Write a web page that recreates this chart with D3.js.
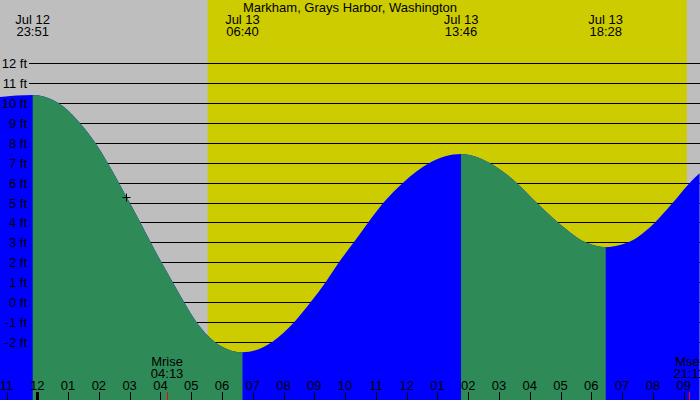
<!DOCTYPE html>
<html>
<head>
<meta charset="utf-8">
<script src="https://cdn.jsdelivr.net/npm/d3@7"></script>
<style>
html,body{margin:0;padding:0;background:#fff;}
svg{display:block;}
text{font-family:"Liberation Sans",Arial,sans-serif;font-size:13px;fill:#000;}
</style>
</head>
<body>
<svg id="chart" width="700" height="400"></svg>
<script>
// ---- data ----
const title = "Markham, Grays Harbor, Washington";

// tide curve samples (month-day hour:minute, feet)
const tideTimes = ["07-12 22:47","07-12 23:51","07-13 00:41","07-13 01:23","07-13 01:53","07-13 02:17","07-13 02:39",
  "07-13 03:00","07-13 03:21","07-13 03:41","07-13 04:02","07-13 04:24","07-13 04:46","07-13 05:10","07-13 05:46",
  "07-13 06:40","07-13 07:38","07-13 08:21","07-13 08:53","07-13 09:22","07-13 09:48","07-13 10:17","07-13 10:45",
  "07-13 11:15","07-13 11:53","07-13 12:45","07-13 13:46","07-13 14:41","07-13 15:34","07-13 16:13","07-13 16:55",
  "07-13 17:49","07-13 18:28","07-13 19:12","07-13 20:04","07-13 20:39","07-13 21:12","07-13 21:31"];
const tideFeet = [10.3,10.4,10,9,8,7,6,5,4,3,2,1,0,-1,-2,-2.52,-2,-1,0,1,2,3,4,5,6,7,7.44,7,6,5,4,3,2.76,3,4,5,6,6.47];

// high / low tide extremes
const extremeTimes = ["07-12 23:51","07-13 06:40","07-13 13:46","07-13 18:28"];
const extremeFeet = [10.4,-2.52,7.44,2.76];
const extremeDateLabels = ["Jul 12","Jul 13","Jul 13","Jul 13"];
const extremeTimeLabels = ["23:51","06:40","13:46","18:28"];

// sun
const sunrise = "07-13 05:32";
const sunset = "07-13 21:06";

// moon events
const moonNames = ["Mrise","Mset"];
const moonTimes = ["07-13 04:13","07-13 21:11"];
const moonLabels = ["04:13","21:11"];

// current marker
const markerTime = "07-13 02:53";
const markerFeet = 5.3;

// axes
const feetTicks = [-2,-1,0,1,2,3,4,5,6,7,8,9,10,11,12];
const hourTicks = ["07-12 23:00","07-13 00:00","07-13 01:00","07-13 02:00","07-13 03:00","07-13 04:00","07-13 05:00",
  "07-13 06:00","07-13 07:00","07-13 08:00","07-13 09:00","07-13 10:00","07-13 11:00","07-13 12:00","07-13 13:00",
  "07-13 14:00","07-13 15:00","07-13 16:00","07-13 17:00","07-13 18:00","07-13 19:00","07-13 20:00","07-13 21:00"];

// ---- drawing ----
const W = 700, H = 400;
const parse = d3.utcParse("%m-%d %H:%M");
const svg = d3.select("#chart");

const midnight = parse("07-13 00:00");
const pxPerHour = 30.78;
const x0 = 37.3;
const x = d3.scaleUtc()
  .domain([midnight, d3.utcHour.offset(midnight, 21)])
  .range([x0, x0 + 21 * pxPerHour]);
const y = d3.scaleLinear().domain([-2, 12]).range([341.9, 63.2]);

const tide = tideTimes.map((t, i) => ({t: parse(t), v: tideFeet[i]}));
const ext = extremeTimes.map((t, i) => ({t: parse(t), v: extremeFeet[i]}));

// background (night)
svg.append("rect").attr("x", 0).attr("y", 0).attr("width", W).attr("height", H).attr("fill", "#bebebe");
// daylight
svg.append("rect")
  .attr("x", x(parse(sunrise))).attr("y", 0)
  .attr("width", x(parse(sunset)) - x(parse(sunrise))).attr("height", H)
  .attr("fill", "#cccc00");

// grid lines
svg.append("g").selectAll("line").data(feetTicks).join("line")
  .attr("x1", 29).attr("x2", W)
  .attr("y1", d => Math.round(y(d)) + 0.5).attr("y2", d => Math.round(y(d)) + 0.5)
  .attr("stroke", "#000").attr("stroke-width", 1);

// tide area
const area = d3.area().x(d => x(d.t)).y0(H).y1(d => y(d.v)).curve(d3.curveMonotoneX);
svg.append("path").datum(tide).attr("d", area).attr("fill", "#0000ff");

// falling intervals in green
const defs = svg.append("defs");
const clip = defs.append("clipPath").attr("id", "falling");
for (let i = 0; i < ext.length - 1; i++) {
  if (ext[i + 1].v < ext[i].v) {
    clip.append("rect").attr("x", x(ext[i].t)).attr("y", 0)
      .attr("width", x(ext[i + 1].t) - x(ext[i].t)).attr("height", H);
  }
}
svg.append("path").datum(tide).attr("d", area).attr("fill", "#2e8b57").attr("clip-path", "url(#falling)");

// y labels
svg.append("g").selectAll("text").data(feetTicks).join("text")
  .attr("x", 27).attr("y", d => Math.round(y(d)) + 5)
  .attr("text-anchor", "end")
  .text(d => d + " ft");

// hour ticks
const hours = hourTicks.map(parse);
const fmtHour = d3.utcFormat("%I");
svg.append("g").selectAll("line").data(hours).join("line")
  .attr("x1", d => Math.round(x(d)) + 0.5).attr("x2", d => Math.round(x(d)) + 0.5)
  .attr("y1", 392).attr("y2", H)
  .attr("stroke", "#000")
  .attr("stroke-width", d => d.getTime() === midnight.getTime() ? 3 : 1);
svg.append("g").selectAll("text").data(hours).join("text")
  .attr("x", d => x(d)).attr("y", 390)
  .attr("text-anchor", "middle")
  .text(d => fmtHour(d));

// moon events
moonTimes.forEach((t, i) => {
  const mx = x(parse(t));
  svg.append("line").attr("x1", Math.round(mx) + 0.5).attr("x2", Math.round(mx) + 0.5)
    .attr("y1", 392).attr("y2", H).attr("stroke", "#ff0000").attr("stroke-width", 1);
  svg.append("text").attr("x", mx).attr("y", 366).attr("text-anchor", "middle").text(moonNames[i]);
  svg.append("text").attr("x", mx).attr("y", 378).attr("text-anchor", "middle").text(moonLabels[i]);
});

// extreme labels at top
ext.forEach((d, i) => {
  svg.append("text").attr("x", x(d.t)).attr("y", 24).attr("text-anchor", "middle").text(extremeDateLabels[i]);
  svg.append("text").attr("x", x(d.t)).attr("y", 36).attr("text-anchor", "middle").text(extremeTimeLabels[i]);
});

// title
svg.append("text").attr("x", 350).attr("y", 12).attr("text-anchor", "middle").text(title);

// current marker
const mxp = Math.round(x(parse(markerTime))) + 0.5, myp = Math.round(y(markerFeet)) + 0.5;
svg.append("line").attr("x1", mxp - 4).attr("x2", mxp + 4).attr("y1", myp).attr("y2", myp).attr("stroke", "#000");
svg.append("line").attr("x1", mxp).attr("x2", mxp).attr("y1", myp - 4).attr("y2", myp + 4).attr("stroke", "#000");
</script>
</body>
</html>
